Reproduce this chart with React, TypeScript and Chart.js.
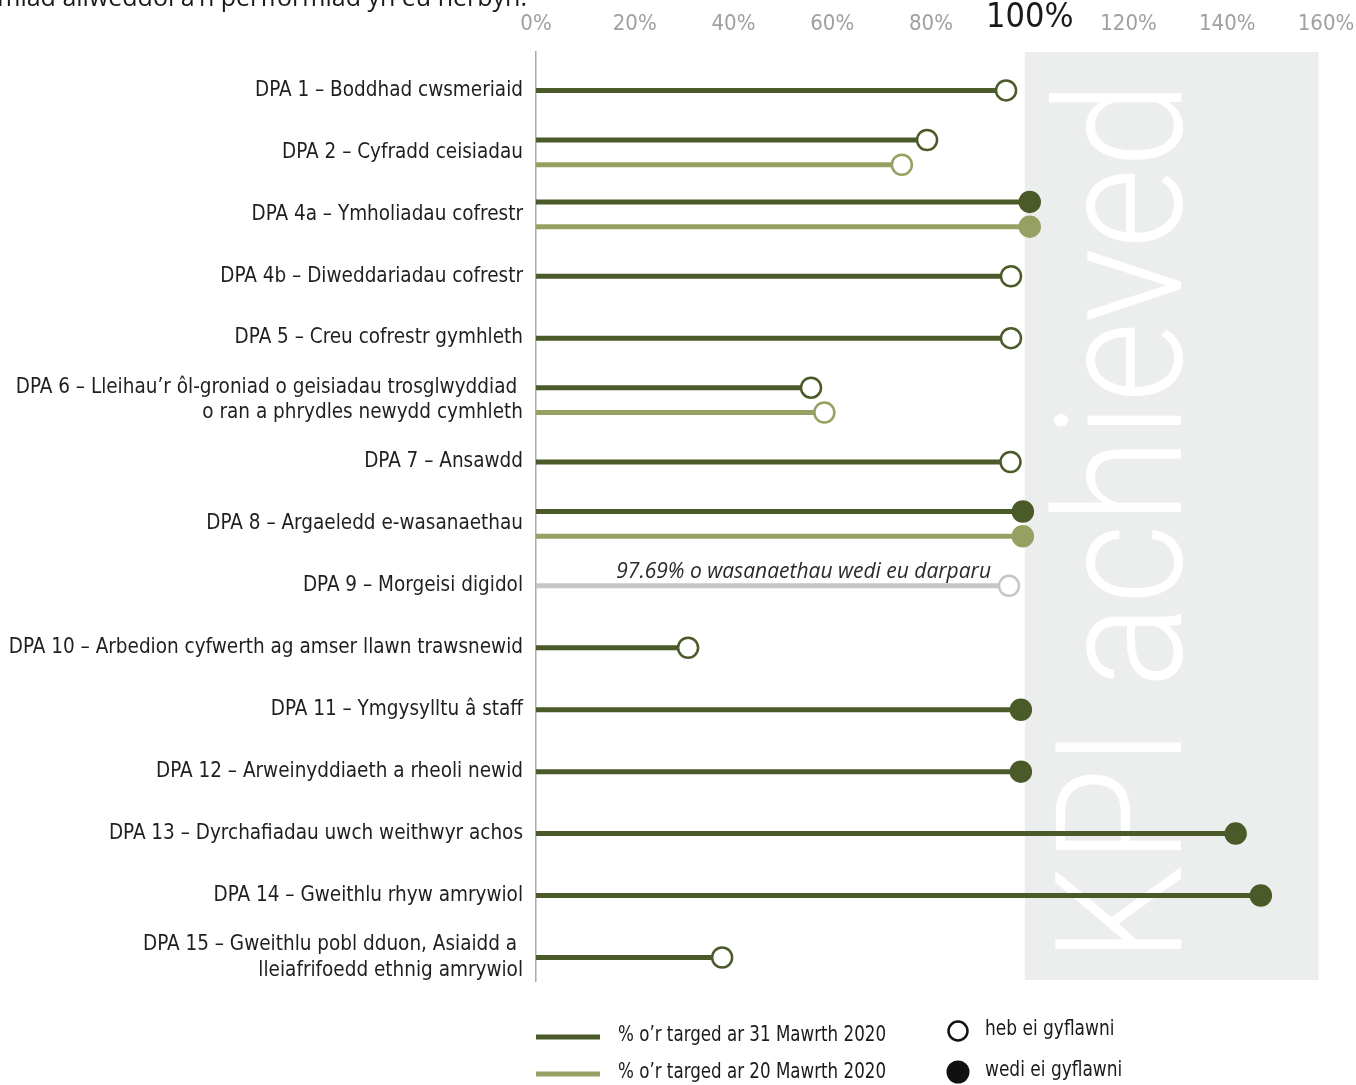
import { useEffect, useRef } from "react";
import { Chart, registerables } from "chart.js";

Chart.register(...registerables);

const categories: (string | string[])[] = [
  "DPA 1 – Boddhad cwsmeriaid",
  "DPA 2 – Cyfradd ceisiadau",
  "DPA 4a – Ymholiadau cofrestr",
  "DPA 4b – Diweddariadau cofrestr",
  "DPA 5 – Creu cofrestr gymhleth",
  ["DPA 6 – Lleihau’r ôl-groniad o geisiadau trosglwyddiad ", "o ran a phrydles newydd cymhleth"],
  "DPA 7 – Ansawdd",
  "DPA 8 – Argaeledd e-wasanaethau",
  "DPA 9 – Morgeisi digidol",
  "DPA 10 – Arbedion cyfwerth ag amser llawn trawsnewid",
  "DPA 11 – Ymgysylltu â staff",
  "DPA 12 – Arweinyddiaeth a rheoli newid",
  "DPA 13 – Dyrchafiadau uwch weithwyr achos",
  "DPA 14 – Gweithlu rhyw amrywiol",
  ["DPA 15 – Gweithlu pobl dduon, Asiaidd a ", "lleiafrifoedd ethnig amrywiol"],
];

// % o'r targed ar 31 Mawrth 2020
const march31: (number | null)[] = [95.2, 79.2, 100, 96.2, 96.2, 55.7, 96.1, 98.6, null, 30.8, 98.2, 98.2, 141.7, 146.8, 37.7];
const march31Achieved: boolean[] = [false, false, true, false, false, false, false, true, false, false, true, true, true, true, false];

// % o'r targed ar 20 Mawrth 2020
const march20: (number | null)[] = [null, 74.1, 100, null, null, 58.4, null, 98.6, null, null, null, null, null, null, null];
const march20Achieved: boolean[] = [false, false, true, false, false, false, false, true, false, false, false, false, false, false, false];

// DPA 9 (grey, services delivered)
const delivered: (number | null)[] = [null, null, null, null, null, null, null, null, 95.8, null, null, null, null, null, null];
const deliveredNote = "97.69% o wasanaethau wedi eu darparu";

const xTickValues = [0, 20, 40, 60, 80, 100, 120, 140, 160];
const titleText = "Dangosyddion perfformiad allweddol a’n perfformiad yn eu herbyn.";
const panelText = "KPI achieved";
const legendSeries = ["% o’r targed ar 31 Mawrth 2020", "% o’r targed ar 20 Mawrth 2020"];
const legendMarkers = ["heb ei gyflawni", "wedi ei gyflawni"];

const DARK = "#4b5a29";
const LIGHT = "#97a063";
const GREY = "#c6c6c6";
const PANEL = "#eceeed";
const NARROW = "'DejaVu Sans Condensed', 'Liberation Sans Narrow', sans-serif";

function lollipop(value: number, y: number, color: string, filled: boolean) {
  return {
    type: "line" as const,
    data: [
      { x: 0, y },
      { x: value, y },
    ],
    borderColor: color,
    borderWidth: 5,
    borderCapStyle: "butt" as const,
    pointRadius: [0, 10],
    pointHoverRadius: [0, 10],
    pointBorderWidth: 2.5,
    pointBorderColor: color,
    pointBackgroundColor: filled ? color : "#ffffff",
    clip: false as const,
  };
}

function squeezedText(ctx: CanvasRenderingContext2D, text: string, x: number, y: number, sx: number) {
  ctx.save();
  ctx.translate(x, y);
  ctx.scale(sx, 1);
  ctx.fillText(text, 0, 0);
  ctx.restore();
}

export default function App() {
  const ref = useRef<HTMLCanvasElement | null>(null);

  useEffect(() => {
    if (!ref.current) return;
    const datasets: any[] = [];
    categories.forEach((_, i) => {
      const pair = march31[i] != null && march20[i] != null;
      if (march31[i] != null) datasets.push(lollipop(march31[i] as number, pair ? i - 0.2 : i, DARK, march31Achieved[i]));
      if (march20[i] != null) datasets.push(lollipop(march20[i] as number, pair ? i + 0.2 : i, LIGHT, march20Achieved[i]));
      if (delivered[i] != null) datasets.push(lollipop(delivered[i] as number, i, GREY, false));
    });

    const decor = {
      id: "decor",
      beforeDatasetsDraw(chart: any) {
        const { ctx, chartArea } = chart;
        const x = chart.scales.x;
        const left = x.getPixelForValue(99);
        const right = x.getPixelForValue(158.5);
        ctx.save();
        ctx.fillStyle = PANEL;
        ctx.fillRect(left, chartArea.top, right - left, chartArea.bottom - chartArea.top - 1);
        ctx.fillStyle = "#ffffff";
        ctx.font = `300 176px Roboto, ${NARROW}`;
        const w = ctx.measureText(panelText).width;
        ctx.translate(left + 156, chartArea.bottom - 18);
        ctx.rotate(-Math.PI / 2);
        ctx.scale(882 / w, 1);
        ctx.textAlign = "left";
        ctx.textBaseline = "alphabetic";
        ctx.fillText(panelText, 0, 0);
        ctx.restore();
      },
      afterDatasetsDraw(chart: any) {
        const { ctx } = chart;
        const x = chart.scales.x;
        const y = chart.scales.y;
        ctx.save();
        ctx.fillStyle = "#2a2a2a";
        ctx.font = `italic 21px 'Open Sans', sans-serif`;
        ctx.textAlign = "right";
        ctx.textBaseline = "alphabetic";
        delivered.forEach((v, i) => {
          if (v == null) return;
          ctx.fillText(deliveredNote, x.getPixelForValue(v) - 18, y.getPixelForValue(i) - 8);
        });
        ctx.restore();
      },
      afterDraw(chart: any) {
        const { ctx } = chart;
        ctx.save();
        // title (cut off at top)
        ctx.fillStyle = "#1a1a1a";
        ctx.font = `25px 'Open Sans', sans-serif`;
        ctx.textAlign = "right";
        ctx.textBaseline = "alphabetic";
        ctx.fillText(titleText, 527, 6);
        // legend
        const colors = [DARK, LIGHT];
        ctx.font = `21px ${NARROW}`;
        ctx.textAlign = "left";
        ctx.textBaseline = "middle";
        legendSeries.forEach((t, k) => {
          const yy = 1037 + k * 37;
          ctx.strokeStyle = colors[k];
          ctx.lineWidth = 5;
          ctx.beginPath();
          ctx.moveTo(536, yy);
          ctx.lineTo(600, yy);
          ctx.stroke();
          ctx.fillStyle = "#1a1a1a";
          const w = ctx.measureText(t).width;
          squeezedText(ctx, t, 618, yy - 1, 268 / w);
        });
        legendMarkers.forEach((t, k) => {
          const yy = 1031 + k * 41;
          ctx.beginPath();
          if (k === 0) {
            ctx.arc(958, yy, 9.5, 0, Math.PI * 2);
            ctx.fillStyle = "#fff";
            ctx.fill();
            ctx.strokeStyle = "#111";
            ctx.lineWidth = 2.5;
            ctx.stroke();
          } else {
            ctx.arc(958, yy, 11.5, 0, Math.PI * 2);
            ctx.fillStyle = "#111";
            ctx.fill();
          }
          ctx.fillStyle = "#1a1a1a";
          squeezedText(ctx, t, 985, yy - 1, 0.9);
        });
        ctx.restore();
      },
    };

    const chart = new Chart(ref.current, {
      type: "line",
      data: { datasets },
      options: {
        responsive: false,
        animation: false,
        events: [],
        layout: { padding: { left: 0, right: 30, top: 0, bottom: 104 } },
        plugins: { legend: { display: false }, tooltip: { enabled: false } },
        scales: {
          x: {
            type: "linear",
            position: "top",
            min: 0,
            max: 160,
            afterBuildTicks: (s: any) => {
              s.ticks = xTickValues.map((v) => ({ value: v }));
            },
            afterFit: (s: any) => {
              s.height = 52;
              s.paddingLeft = 0;
              s.paddingRight = 0;
            },
            grid: { display: false, drawTicks: false },
            border: { display: false },
            ticks: {
              padding: 17,
              autoSkip: false,
              maxRotation: 0,
              callback: (v: any) => `${v}%`,
              color: (c: any) => (c.tick && c.tick.value === 100 ? "#1a1a1a" : "#a0a0a0"),
              font: (c: any) =>
                c.tick && c.tick.value === 100
                  ? { family: NARROW, size: 34, lineHeight: 1 }
                  : { family: NARROW, size: 22, lineHeight: 1 },
            },
          },
          y: {
            type: "linear",
            reverse: true,
            min: -0.62,
            max: 14.38,
            afterBuildTicks: (s: any) => {
              s.ticks = categories.map((_, i) => ({ value: i }));
            },
            afterFit: (s: any) => {
              s.width = 536;
              s.paddingTop = 0;
              s.paddingBottom = 0;
            },
            grid: { display: false, drawTicks: false },
            border: { display: true, color: "#a9a9a9", width: 1.5 },
            ticks: {
              padding: 13,
              autoSkip: false,
              color: "#1f1f1f",
              font: { family: NARROW, size: 20.5, lineHeight: 1.25 },
              callback: (v: any) => categories[Math.round(v)] as any,
            },
          },
        },
      },
      plugins: [decor],
    });
    return () => chart.destroy();
  }, []);

  return (
    <div style={{ position: "absolute", left: 0, top: 0, width: 1356, height: 1085, background: "#fff" }}>
      <canvas ref={ref} width={1356} height={1085} style={{ display: "block" }} />
    </div>
  );
}
